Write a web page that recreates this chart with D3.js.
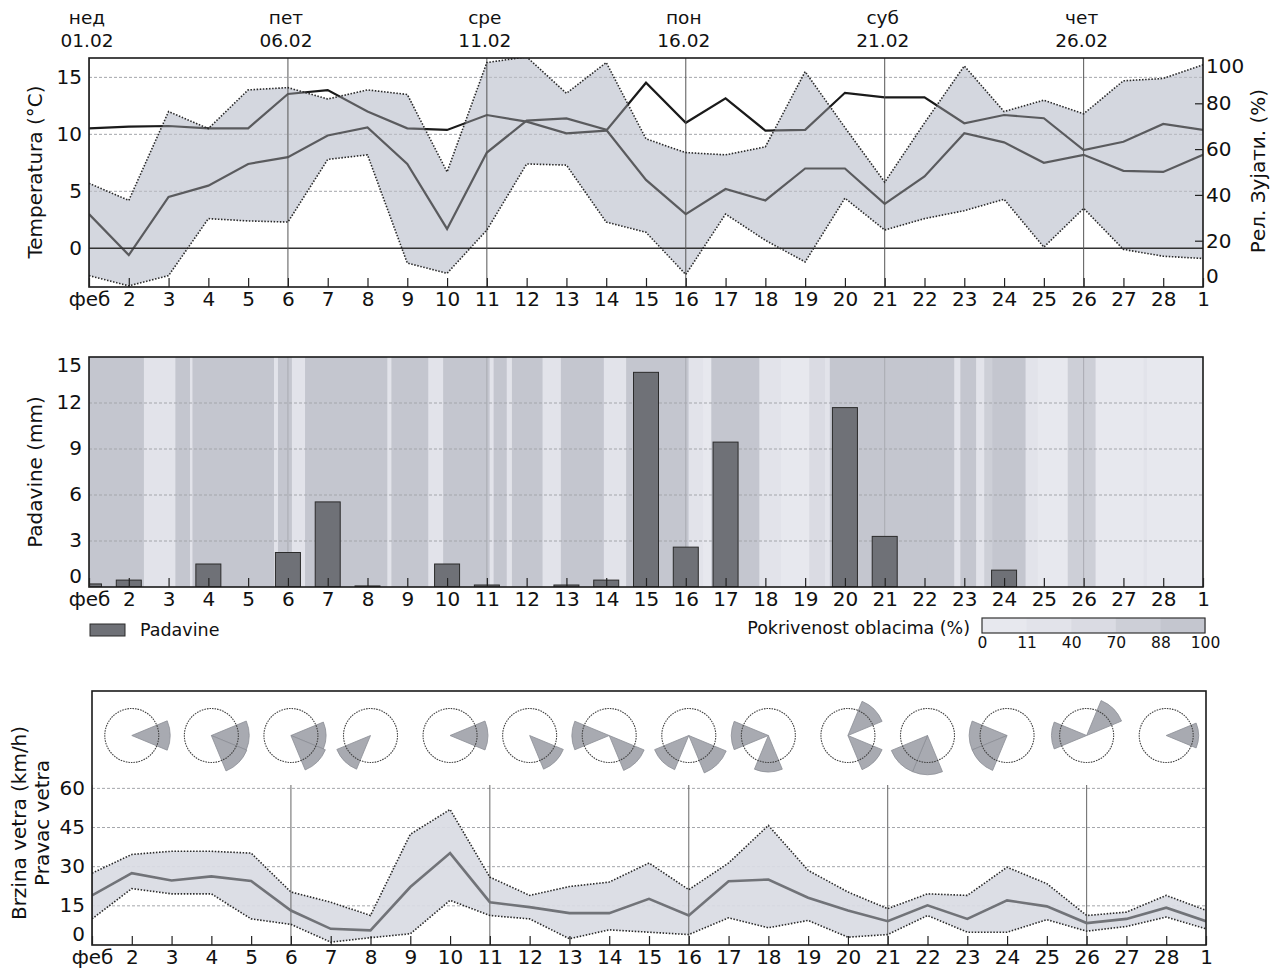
<!DOCTYPE html>
<html>
<head>
<meta charset="utf-8">
<script src="https://cdn.jsdelivr.net/npm/d3@7"></script>
<style>
  body { margin: 0; background: #fff; }
  svg { display: block; font-family: "DejaVu Sans", sans-serif; }
</style>
</head>
<body>
<svg id="chart" width="1271" height="968"></svg>
<script>
// ---- data (Feb 1 .. Mar 1) ----
const days = d3.range(1, 30);
const dayLabels = ['феб', '2', '3', '4', '5', '6', '7', '8', '9', '10', '11', '12', '13', '14',
    '15', '16', '17', '18', '19', '20', '21', '22', '23', '24', '25', '26', '27', '28', '1'];
const weekDays = [1, 6, 11, 16, 21, 26];
const weekNames = ['нед', 'пет', 'сре', 'пон', 'суб', 'чет'];
const weekDates = ['01.02', '06.02', '11.02', '16.02', '21.02', '26.02'];

const tempMax = [5.7, 4.2, 12.0, 10.5, 13.9, 14.1, 13.1, 13.9, 13.5, 6.7, 16.3, 16.8, 13.6, 16.3,
    9.6, 8.4, 8.2, 8.9, 15.5, 10.6, 5.8, 11.0, 16.0, 12.0, 13.0, 11.8, 14.7, 14.9, 16.1];
const tempMin = [-2.4, -3.3, -2.4, 2.6, 2.4, 2.3, 7.8, 8.2, -1.3, -2.2, 1.6, 7.4, 7.3, 2.3,
    1.4, -2.3, 3.0, 0.7, -1.2, 4.4, 1.6, 2.6, 3.3, 4.3, 0.1, 3.5, -0.1, -0.7, -0.9];
const tempMean = [3.0, -0.6, 4.5, 5.5, 7.4, 8.0, 9.9, 10.6, 7.4, 1.7, 8.4, 11.2, 11.4, 10.4,
    6.0, 3.0, 5.2, 4.2, 7.0, 7.0, 3.9, 6.3, 10.1, 9.3, 7.5, 8.2, 6.8, 6.7, 8.2];
const humidity = [69.3, 70.0, 70.3, 69.3, 69.3, 84.3, 86.0, 76.6, 69.3, 68.6, 75.1, 72.2, 67.1, 68.3,
    89.2, 71.7, 82.4, 68.3, 68.6, 84.8, 82.8, 82.8, 71.5, 75.1, 73.7, 59.8, 63.4, 71.2, 68.6];

const precip = [0.2, 0.45, 0, 1.5, 0, 2.25, 5.55, 0.07, 0, 1.5, 0.13, 0, 0.13, 0.45,
    14.0, 2.6, 9.45, 0, 0, 11.7, 3.3, 0, 0, 1.1, 0, 0, 0, 0];

// cloud cover periods: start (day) and cover (%)
const cloudStart = [1.0, 2.38, 3.17, 3.54, 3.6, 5.65, 5.75, 6.1, 6.43, 8.5, 8.6, 9.53, 9.9, 11.07,
    11.17, 11.5, 11.63, 12.4, 12.86, 13.94, 14.5, 16.07, 16.44, 16.64, 17.85, 18.39, 19.1, 19.5,
    19.62, 22.08, 22.75, 22.9, 23.3, 23.5, 23.7, 24.54, 24.85, 25.6, 26.3, 27.5, 27.6];
const cloudCover = [95, 25, 95, 30, 95, 30, 95, 20, 95, 30, 95, 20, 95, 35,
    95, 35, 95, 25, 95, 25, 95, 25, 8, 92, 25, 8, 50, 20,
    95, 88, 25, 88, 30, 80, 90, 20, 8, 80, 8, 30, 10];
const cloudLegendTicks = [0, 11, 40, 70, 88, 100];

const windMax = [27.5, 34.7, 35.9, 35.9, 35.2, 20.3, 16.4, 11.3, 42.4, 51.9, 26.0, 19.0, 22.4, 24.1,
    31.4, 21.2, 31.4, 45.8, 28.6, 20.3, 13.9, 19.6, 19.0, 29.8, 23.5, 11.3, 12.6, 19.0, 13.3];
const windMean = [19.0, 27.5, 24.7, 26.3, 24.5, 13.2, 6.2, 5.6, 22.2, 35.2, 16.4, 14.5, 12.2, 12.2,
    17.7, 11.3, 24.4, 25.1, 18.1, 13.2, 9.1, 15.2, 10.0, 17.1, 14.8, 8.4, 10.0, 14.3, 9.1];
const windMin = [10.0, 21.6, 19.6, 19.6, 10.0, 7.9, 1.1, 2.8, 4.3, 17.1, 11.3, 10.0, 2.4, 5.8,
    4.9, 4.0, 10.4, 6.6, 9.4, 3.0, 4.0, 11.3, 4.9, 4.9, 9.7, 5.3, 7.1, 10.7, 6.2];

// wind direction roses: [direction (deg), relative length]
const roseDays = [2, 4, 6, 8, 10, 12, 14, 16, 18, 20, 22, 24, 26, 28];
const roseSectors = [
    [[90, 1.42]],
    [[90, 1.4], [135, 1.42]],
    [[90, 1.3], [135, 1.38]],
    [[225, 1.35]],
    [[90, 1.4]],
    [[135, 1.35]],
    [[270, 1.38], [135, 1.4]],
    [[225, 1.37], [135, 1.5]],
    [[270, 1.37], [180, 1.35]],
    [[45, 1.37], [135, 1.37]],
    [[180, 1.45], [225, 1.45]],
    [[270, 1.4], [225, 1.4]],
    [[270, 1.3], [45, 1.4]],
    [[90, 1.2]]
];

// ---- layout ----
const FONT = 20;
const LEG_FONT = 17.5;
const pTemp = { x0: 89, x1: 1203, y0: 58, y1: 287 };
const pRain = { x0: 89, x1: 1203, y0: 357, y1: 587 };
const pWind = { x0: 92, x1: 1206, y0: 691, y1: 945 };
const BAND = '#d5d7df';
const DOTS = '1.5,1.6';

const svg = d3.select('#chart');
svg.append('rect').attr('width', 1271).attr('height', 968).attr('fill', '#fff');
const defs = svg.append('defs');

function clipFor(id, p) {
    defs.append('clipPath').attr('id', id)
        .append('rect').attr('x', p.x0).attr('y', p.y0)
        .attr('width', p.x1 - p.x0).attr('height', p.y1 - p.y0);
    return svg.append('g').attr('clip-path', `url(#${id})`);
}

function styleAxis(g, size) {
    g.attr('font-size', size || FONT).attr('font-family', '"DejaVu Sans", sans-serif');
    g.select('.domain').remove();
    g.selectAll('line').attr('stroke', '#222').attr('stroke-width', 1.2);
    g.selectAll('text').attr('fill', '#111');
}

function bottomAxis(x, p) {
    svg.append('g')
        .attr('transform', `translate(0,${p.y1})`)
        .call(d3.axisBottom(x).tickValues(days).tickSize(-9).tickPadding(5)
            .tickFormat((d, i) => dayLabels[i]))
        .call(styleAxis);
}

// clamps the labels at the panel edges inward like the original
function sideAxis(axis, scale, p, x, values) {
    const g = svg.append('g').attr('transform', `translate(${x},0)`)
        .call(axis.tickValues(values))
        .call(styleAxis);
    g.selectAll('.tick').attr('transform', d =>
        `translate(0,${Math.max(p.y0 + 9, Math.min(p.y1 - 10, scale(d)))})`);
    return g;
}

function hGrid(g, scale, p, values) {
    g.selectAll(null).data(values).join('line')
        .attr('x1', p.x0).attr('x2', p.x1)
        .attr('y1', d => scale(d)).attr('y2', d => scale(d))
        .attr('stroke', '#a4a6ab').attr('stroke-width', 1).attr('stroke-dasharray', '3,2');
}

function vGrid(g, x, y0, y1, color) {
    g.selectAll(null).data(weekDays).join('line')
        .attr('x1', d => x(d)).attr('x2', d => x(d))
        .attr('y1', y0).attr('y2', y1)
        .attr('stroke', color).attr('stroke-width', 1);
}

function frame(p) {
    svg.append('rect').attr('x', p.x0).attr('y', p.y0)
        .attr('width', p.x1 - p.x0).attr('height', p.y1 - p.y0)
        .attr('fill', 'none').attr('stroke', '#1a1a1a').attr('stroke-width', 1.6);
}

function yTitle(text, x, y) {
    svg.append('text').attr('transform', `translate(${x},${y}) rotate(-90)`)
        .attr('text-anchor', 'middle').attr('font-size', FONT).attr('fill', '#111').text(text);
}

// ================= temperature / humidity =================
const x = d3.scaleLinear().domain([1, 29]).range([pTemp.x0, pTemp.x1]);
const yT = d3.scaleLinear().domain([-3.4, 16.7]).range([pTemp.y1, pTemp.y0]);
const yH = d3.scaleLinear().domain([0, 100]).range([pTemp.y1, pTemp.y0]);

const gT = clipFor('clipT', pTemp);
const bandT = d3.area().x((d, i) => x(days[i])).y0((d, i) => yT(tempMin[i])).y1(d => yT(d));
gT.append('path').datum(tempMax).attr('d', bandT).attr('fill', BAND);
hGrid(gT, yT, pTemp, [5, 10, 15]);

const lineT = d3.line().x((d, i) => x(days[i])).y(d => yT(d));
const lineH = d3.line().x((d, i) => x(days[i])).y(d => yH(d));
gT.append('path').datum(humidity).attr('d', lineH)
    .attr('fill', 'none').attr('stroke', '#1a1a1a').attr('stroke-width', 2.2);
gT.append('path').datum(tempMean).attr('d', lineT)
    .attr('fill', 'none').attr('stroke', '#1a1a1a').attr('stroke-width', 2.2);
// band veil over the lines
gT.append('path').datum(tempMax).attr('d', bandT).attr('fill', BAND).attr('opacity', 0.35);

gT.append('line').attr('x1', pTemp.x0).attr('x2', pTemp.x1)
    .attr('y1', yT(0)).attr('y2', yT(0)).attr('stroke', '#333').attr('stroke-width', 1.6);
vGrid(gT, x, pTemp.y0, pTemp.y1, '#555');

[tempMax, tempMin].forEach(s => {
    gT.append('path').datum(s).attr('d', lineT).attr('fill', 'none')
        .attr('stroke', '#2a2a2a').attr('stroke-width', 1.6).attr('stroke-dasharray', DOTS);
});
frame(pTemp);
bottomAxis(x, pTemp);
sideAxis(d3.axisLeft(yT).tickSize(0).tickPadding(7), yT, pTemp, pTemp.x0, [0, 5, 10, 15]);
const hAx = sideAxis(d3.axisRight(yH).tickSize(-8).tickPadding(3), yH, pTemp, pTemp.x1, [0, 20, 40, 60, 80, 100]);
hAx.selectAll('.tick').filter(d => d === 0 || d === 100).select('line').remove();
yTitle('Temperatura (°C)', 42, 172);
yTitle('Рел. Зујати. (%)', 1265, 171);

const wk = svg.append('g').attr('font-size', 18.5).attr('fill', '#111').attr('text-anchor', 'middle');
weekDays.forEach((d, i) => {
    wk.append('text').attr('x', x(d) - 2).attr('y', 24).text(weekNames[i]);
    wk.append('text').attr('x', x(d) - 2).attr('y', 47).text(weekDates[i]);
});

// ================= precipitation / clouds =================
const yR = d3.scaleLinear().domain([0, 15]).range([pRain.y1, pRain.y0]);
const cloudColor = d3.scaleThreshold().domain([11, 40, 70, 88])
    .range(['#e7e8ee', '#e2e3ea', '#dadbe3', '#cdcfd7', '#c4c6cf']);

const gR = clipFor('clipR', pRain);
gR.selectAll(null).data(cloudStart).join('rect')
    .attr('x', d => x(d))
    .attr('width', (d, i) => x(i + 1 < cloudStart.length ? cloudStart[i + 1] : 29) - x(d) + 0.5)
    .attr('y', pRain.y0).attr('height', pRain.y1 - pRain.y0)
    .attr('fill', (d, i) => cloudColor(cloudCover[i]));
hGrid(gR, yR, pRain, [3, 6, 9, 12]);
vGrid(gR, x, pRain.y0, pRain.y1, '#a9abb2');

const barW = 25;
const rainBars = precip.map((v, i) => ({ day: days[i], v })).filter(b => b.v > 0);
gR.selectAll(null).data(rainBars).join('rect')
    .attr('x', b => x(b.day) - barW / 2)
    .attr('y', b => yR(b.v))
    .attr('width', barW)
    .attr('height', b => yR(0) - yR(b.v))
    .attr('fill', '#6f7177').attr('stroke', '#2b2b2b').attr('stroke-width', 1);
frame(pRain);
bottomAxis(x, pRain);
sideAxis(d3.axisLeft(yR).tickSize(0).tickPadding(7), yR, pRain, pRain.x0, [0, 3, 6, 9, 12, 15]);
yTitle('Padavine (mm)', 42, 472);

// legends
svg.append('rect').attr('x', 90).attr('y', 624).attr('width', 35).attr('height', 12)
    .attr('fill', '#6f7177').attr('stroke', '#2b2b2b');
svg.append('text').attr('x', 140).attr('y', 636).attr('font-size', LEG_FONT).attr('fill', '#111').text('Padavine');
svg.append('text').attr('x', 970).attr('y', 634).attr('text-anchor', 'end')
    .attr('font-size', LEG_FONT).attr('fill', '#111').text('Pokrivenost oblacima (%)');

const legX = d3.scalePoint().domain(cloudLegendTicks).range([982, 1205]);
const legStep = legX.step();
svg.append('g').selectAll('rect').data(cloudLegendTicks.slice(0, -1)).join('rect')
    .attr('x', d => legX(d)).attr('y', 618).attr('width', legStep + 0.5).attr('height', 15)
    .attr('fill', d => cloudColor(d + 1));
svg.append('rect').attr('x', 982).attr('y', 618).attr('width', 223).attr('height', 15)
    .attr('fill', 'none').attr('stroke', '#333').attr('stroke-width', 1.2);
svg.append('g').attr('transform', 'translate(0,634)')
    .call(d3.axisBottom(legX).tickSize(0).tickPadding(3))
    .call(g => styleAxis(g, 15.5));

// ================= wind =================
const xW = d3.scaleLinear().domain([1, 29]).range([pWind.x0, pWind.x1]);
const yW = d3.scaleLinear().domain([0, 97.3]).range([pWind.y1, pWind.y0]);

const gW = clipFor('clipW', pWind);
hGrid(gW, yW, pWind, [15, 30, 45, 60]);
const bandW = d3.area().x((d, i) => xW(days[i])).y0((d, i) => yW(windMin[i])).y1(d => yW(d));
gW.append('path').datum(windMax).attr('d', bandW).attr('fill', '#d9dbe3').attr('opacity', 0.92);
vGrid(gW, xW, 785, pWind.y1, '#666');
const lineW = d3.line().x((d, i) => xW(days[i])).y(d => yW(d));
gW.append('path').datum(windMean).attr('d', lineW).attr('fill', 'none')
    .attr('stroke', '#717378').attr('stroke-width', 2.6);
[windMax, windMin].forEach(s => {
    gW.append('path').datum(s).attr('d', lineW).attr('fill', 'none')
        .attr('stroke', '#2a2a2a').attr('stroke-width', 1.6).attr('stroke-dasharray', DOTS);
});

// roses
const roseR = 27;
const roseY = 735.5;
const rLen = d3.scaleLinear().domain([0, 1]).range([0, roseR]);
const wedge = d3.arc().innerRadius(0);
roseDays.forEach((d, i) => {
    const g = gW.append('g').attr('transform', `translate(${xW(d)},${roseY})`);
    g.selectAll('path').data(roseSectors[i]).join('path')
        .attr('d', s => wedge({
            outerRadius: rLen(s[1]),
            startAngle: (s[0] - 22.5) * Math.PI / 180,
            endAngle: (s[0] + 22.5) * Math.PI / 180
        }))
        .attr('fill', '#a8aab1').attr('stroke', '#8c8e95').attr('stroke-width', 0.8);
    g.append('circle').attr('r', roseR).attr('fill', 'none')
        .attr('stroke', '#444').attr('stroke-width', 1.1).attr('stroke-dasharray', '1.6,1');
});
frame(pWind);
bottomAxis(xW, pWind);
sideAxis(d3.axisLeft(yW).tickSize(0).tickPadding(7), yW, pWind, pWind.x0, [0, 15, 30, 45, 60]);
yTitle('Brzina vetra (km/h)', 26, 823);
yTitle('Pravac vetra', 49, 823);
</script>
</body>
</html>
